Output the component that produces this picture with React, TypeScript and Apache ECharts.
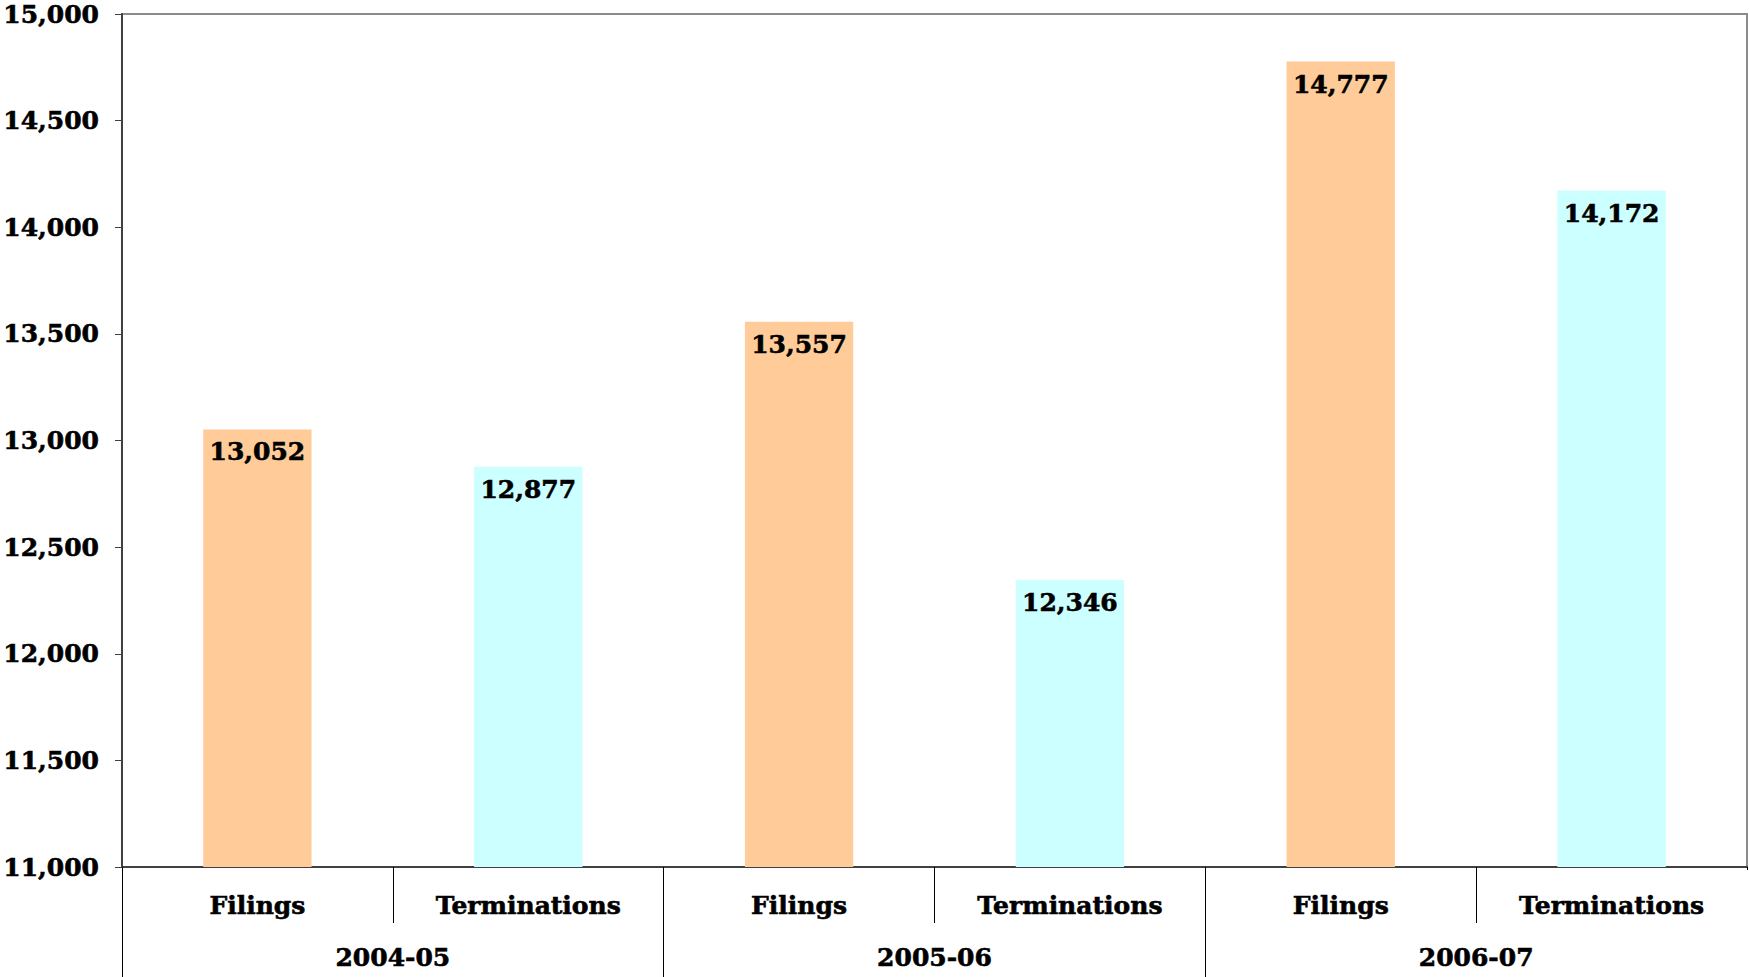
import React, { useEffect, useRef } from "react";
import * as echarts from "echarts";

const years = ["2004-05", "2005-06", "2006-07"];
const measures = ["Filings", "Terminations"];
const filings = [13052, 13557, 14777];
const terminations = [12877, 12346, 14172];
const yTicks = { min: 11000, max: 15000, interval: 500 };
const colors = { Filings: "#FFCC99", Terminations: "#CCFFFF" };

const FONT = "'DejaVu Serif', 'Liberation Serif', serif";
const textStyle = {
  color: "#000",
  fontFamily: FONT,
  fontWeight: "bold",
  fontSize: 25,
  textBorderColor: "#000",
  textBorderWidth: 0.6,
};

export default function App() {
  const ref = useRef<HTMLDivElement>(null);
  useEffect(() => {
    if (!ref.current) return;
    const chart = echarts.init(ref.current, undefined, { renderer: "svg" });
    const cats: string[] = [];
    const data: any[] = [];
    years.forEach((y, i) => {
      measures.forEach((m) => {
        cats.push(m);
        const v = m === "Filings" ? filings[i] : terminations[i];
        data.push({ value: v, itemStyle: { color: (colors as any)[m] } });
      });
    });
    chart.setOption({
      animation: false,
      backgroundColor: "#ffffff",
      grid: {
        left: 121,
        top: 14,
        right: 2,
        bottom: 110,
        show: true,
        borderColor: "#8c8c8c",
        borderWidth: 2,
        backgroundColor: "transparent",
      },
      graphic: [
        {
          type: "rect",
          right: 0,
          bottom: 0,
          shape: { width: 5, height: 107 },
          style: { fill: "#ffffff" },
          z: 100,
        },
      ],
      xAxis: [
        {
          type: "category",
          position: "bottom",
          data: cats,
          boundaryGap: true,
          axisLine: { show: true, lineStyle: { color: "#404040", width: 2 } },
          axisTick: {
            show: true,
            interval: 0,
            length: 56,
            lineStyle: { color: "#000", width: 1 },
          },
          axisLabel: { interval: 0, margin: 26, ...textStyle },
        },
        {
          type: "category",
          position: "bottom",
          data: years,
          boundaryGap: true,
          axisLine: { show: false },
          axisTick: {
            show: true,
            interval: 0,
            length: 112,
            lineStyle: { color: "#000", width: 1 },
          },
          axisLabel: { interval: 0, margin: 78, ...textStyle },
        },
      ],
      yAxis: {
        type: "value",
        min: yTicks.min,
        max: yTicks.max,
        interval: yTicks.interval,
        axisLine: { show: true, lineStyle: { color: "#404040", width: 2 } },
        axisTick: { show: true, length: 7, lineStyle: { color: "#404040", width: 1 } },
        splitLine: { show: false },
        axisLabel: {
          margin: 23,
          ...textStyle,
          formatter: (v: number) => v.toLocaleString("en-US"),
        },
      },
      series: [
        {
          type: "bar",
          xAxisIndex: 0,
          data,
          barWidth: "40%",
          label: {
            show: true,
            position: "insideTop",
            distance: 10,
            ...textStyle,
            formatter: (p: any) => Number(p.value).toLocaleString("en-US"),
          },
        },
      ],
    });
    return () => chart.dispose();
  }, []);
  return (
    <div
      ref={ref}
      style={{ position: "absolute", left: 0, top: 0, width: 1749, height: 977 }}
    />
  );
}
